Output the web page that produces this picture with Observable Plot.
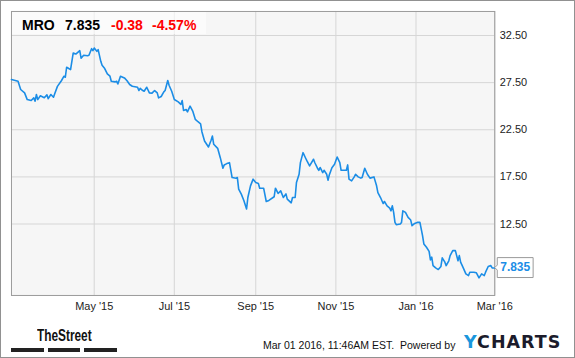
<!DOCTYPE html>
<html>
<head>
<meta charset="utf-8">
<script src="https://cdn.jsdelivr.net/npm/d3@7"></script>
<script src="https://cdn.jsdelivr.net/npm/@observablehq/plot@0.6"></script>
<style>
  html, body { margin: 0; padding: 0; background: #fff; }
  #wrap { position: relative; width: 575px; height: 358px; box-sizing: border-box; border: 1px solid #919191; overflow: hidden; font-family: "Liberation Sans", Arial, sans-serif; }
  #chart { position: absolute; left: 0; top: 0; }
  #hdrbox { position: absolute; left: 11px; top: 11px; width: 194px; height: 22px; background: rgba(255,255,255,0.6); }
  .h { position: absolute; top: 17px; font: bold 14px/14px "Liberation Sans", Arial, sans-serif; white-space: pre; }
  .red { color: #ff0000; }
  #stamp { position: absolute; left: 262px; top: 339px; font: 10.5px/10.5px "Liberation Sans", Arial, sans-serif; color: #111; white-space: pre; }
  #ych { position: absolute; left: 463px; top: 333px; font: bold 17.5px/17.5px "DejaVu Sans", sans-serif; letter-spacing: 1px; color: #1b1b2b; white-space: pre; }
  #ych span { color: #1a96dc; }
  #ts { position: absolute; left: 36px; top: 327px; font: bold 16px/16px "Liberation Sans", Arial, sans-serif; color: #111; white-space: pre; transform: scaleX(0.74); transform-origin: 0 0; }
  .bar { position: absolute; top: 347px; height: 4px; background: #222; }
  g[aria-label="tip"] text, g[aria-label="tip"] tspan { fill: #1b8de6 !important; font-weight: bold !important; }
</style>
</head>
<body>
<div id="wrap">
  <div id="chart"></div>
  <div id="hdrbox"></div>
  <div class="h" id="hSym" style="left:21px"></div>
  <div class="h" id="hPrice" style="left:64px"></div>
  <div class="h red" id="hChg" style="left:110px"></div>
  <div class="h red" id="hPct" style="left:151px"></div>
  <div id="ts">TheStreet</div>
  <div class="bar" style="left:10px;width:33px"></div>
  <div class="bar" style="left:47px;width:32px"></div>
  <div class="bar" style="left:83px;width:33px"></div>
  <div id="stamp">Mar 01 2016, 11:46AM EST.  Powered by</div>
  <div id="ych"><span>Y</span>CHARTS</div>
</div>
<script>
const symbol = "MRO";
const lastPrice = 7.835;
const change = -0.38;
const changePct = -4.57;

const dates = [
  "2015-02-27","2015-03-04","2015-03-06","2015-03-09","2015-03-11","2015-03-14","2015-03-16","2015-03-17","2015-03-18","2015-03-19","2015-03-21","2015-03-24","2015-03-26","2015-03-27","2015-03-29","2015-03-31","2015-04-01","2015-04-03","2015-04-06","2015-04-08","2015-04-09","2015-04-10","2015-04-11","2015-04-13","2015-04-15","2015-04-17","2015-04-20","2015-04-21","2015-04-23","2015-04-26","2015-04-27","2015-04-29","2015-04-30","2015-05-01","2015-05-03","2015-05-04","2015-05-06","2015-05-07","2015-05-09","2015-05-11","2015-05-13","2015-05-14","2015-05-17","2015-05-18","2015-05-19","2015-05-21","2015-05-24","2015-05-26","2015-05-28",
  "2015-05-30","2015-06-03","2015-06-04","2015-06-05","2015-06-07","2015-06-08","2015-06-10","2015-06-12","2015-06-14","2015-06-16","2015-06-18","2015-06-19","2015-06-21","2015-06-23","2015-06-24","2015-06-26","2015-06-27","2015-06-29","2015-07-01","2015-07-04","2015-07-06","2015-07-07","2015-07-08","2015-07-10","2015-07-11","2015-07-13","2015-07-15","2015-07-17","2015-07-19","2015-07-21","2015-07-22","2015-07-24","2015-07-27","2015-07-29","2015-07-30","2015-07-31","2015-08-03","2015-08-05","2015-08-07","2015-08-08","2015-08-10","2015-08-12","2015-08-14","2015-08-17","2015-08-18","2015-08-19","2015-08-21","2015-08-23","2015-08-25","2015-08-26","2015-08-28","2015-08-30",
  "2015-09-01","2015-09-03","2015-09-04","2015-09-07","2015-09-09","2015-09-11","2015-09-15","2015-09-16","2015-09-18","2015-09-20","2015-09-22","2015-09-24","2015-09-25","2015-09-28","2015-09-29","2015-10-01","2015-10-02","2015-10-04","2015-10-05","2015-10-07","2015-10-09","2015-10-10","2015-10-12","2015-10-15","2015-10-16","2015-10-18","2015-10-19","2015-10-20","2015-10-22","2015-10-23","2015-10-25","2015-10-26","2015-10-27","2015-10-29","2015-10-31","2015-11-02","2015-11-04","2015-11-05","2015-11-09","2015-11-10","2015-11-11","2015-11-13","2015-11-15","2015-11-16","2015-11-18","2015-11-20","2015-11-21","2015-11-23","2015-11-25","2015-11-27","2015-11-30",
  "2015-12-02","2015-12-03","2015-12-05","2015-12-07","2015-12-08","2015-12-10","2015-12-12","2015-12-13","2015-12-14","2015-12-15","2015-12-16","2015-12-17","2015-12-20","2015-12-21","2015-12-22","2015-12-24","2015-12-26","2015-12-28","2015-12-29","2015-12-31","2016-01-02","2016-01-04","2016-01-06","2016-01-07","2016-01-09","2016-01-11","2016-01-12","2016-01-13","2016-01-14","2016-01-16","2016-01-18","2016-01-20","2016-01-21","2016-01-23","2016-01-24","2016-01-26","2016-01-27","2016-01-29","2016-01-31","2016-02-02","2016-02-03","2016-02-04","2016-02-06","2016-02-08","2016-02-10","2016-02-11","2016-02-14","2016-02-16","2016-02-18","2016-02-20","2016-02-22","2016-02-23","2016-02-25","2016-02-27","2016-02-28","2016-03-01"
];
const prices = [
  27.83,27.65,26.77,26.41,25.7,25.6,25.88,25.53,26.24,25.7,26.1,25.9,26.2,25.8,26.24,25.95,26.35,27.1,27.7,28.18,28.07,29.13,29.05,28.88,30.64,30.53,30.89,30.1,30.4,30.36,30.4,31.1,30.89,31.17,30.82,31.0,29.76,29.34,28.99,28.42,28.18,27.65,27.58,27.65,27.36,28.18,28.0,27.7,27.3,
  27.12,27.01,26.66,26.9,26.66,26.59,27.01,26.41,26.38,26.66,26.41,25.88,26.03,26.52,26.66,27.72,27.22,26.59,25.71,25.46,25.18,25.6,24.55,24.65,24.4,25.0,24.48,23.6,23.35,23.13,22.29,21.31,20.67,21.38,21.83,20.96,20.53,19.54,18.42,18.77,18.91,19.01,17.43,17.36,17.43,16.2,15.67,14.96,14.09,15.31,16.55,17.26,
  16.9,16.8,16.3,16.3,14.89,15.0,15.39,16.3,15.74,16.02,15.31,15.7,15.14,14.75,15.31,15.31,16.9,17.78,19.01,20.07,19.48,19.19,18.66,19.37,19.0,18.42,18.2,18.5,17.96,18.2,17.78,17.15,17.7,18.48,18.84,19.61,19.01,18.2,18.2,18.77,17.26,17.08,17.5,17.78,17.5,17.37,17.43,18.42,17.78,17.37,17.5,
  16.55,15.84,15.31,14.68,14.89,14.43,14.19,13.9,14.43,13.73,12.67,12.43,12.5,12.67,13.9,13.73,13.2,12.92,12.32,12.56,12.67,12.67,11.26,10.39,10.03,9.6,8.69,8.98,8.09,7.85,7.67,8.0,8.91,8.45,8.09,8.6,9.15,9.68,9.68,8.6,9.15,8.45,7.85,7.21,7.03,7.39,7.39,7.32,6.79,7.21,7.03,7.39,7.99,8.09,7.85,7.835
];
const xTickDates = ["2015-05-01","2015-07-01","2015-09-01","2015-11-01","2016-01-01","2016-03-01"];
const yTickValues = [12.5, 17.5, 22.5, 27.5, 32.5];
const yDomain = [4.92, 35.05];

const data = dates.map((d, i) => ({date: new Date(d), value: prices[i]}));
const xTicks = xTickDates.map(d => new Date(d));
const last = data[data.length - 1];
const fmtX = d3.utcFormat("%b '%y");

document.getElementById("hSym").textContent = symbol;
document.getElementById("hPrice").textContent = lastPrice.toFixed(3);
document.getElementById("hChg").textContent = change.toFixed(2);
document.getElementById("hPct").textContent = changePct.toFixed(2) + "%";

const chart = Plot.plot({
  width: 575,
  height: 358,
  marginLeft: 10,
  marginRight: 80,
  marginTop: 10,
  marginBottom: 63,
  style: {background: "transparent", fontFamily: "'Liberation Sans', Arial, sans-serif", fontSize: "11px", color: "#222"},
  x: {type: "utc", domain: [data[0].date, last.date], label: null},
  y: {domain: yDomain, label: null},
  marks: [
    Plot.frame({fill: "#f6f6f6", stroke: null}),
    Plot.gridX(xTicks, {stroke: "#d6d6d6", strokeOpacity: 1}),
    Plot.gridY(yTickValues, {stroke: "#d6d6d6", strokeOpacity: 1}),
    Plot.frame({stroke: "#9a9a9a"}),
    Plot.axisX(xTicks, {tickSize: 0, tickPadding: 7, tickFormat: fmtX, label: null}),
    Plot.axisY(yTickValues, {anchor: "right", tickSize: 0, tickPadding: 5, tickFormat: d => d.toFixed(2), label: null}),
    Plot.lineY(data, {x: "date", y: "value", stroke: "#1b8de6", strokeWidth: 1.6}),
    Plot.tip([last], {x: "date", y: "value", title: d => d.value.toFixed(3), anchor: "left",
      fill: "white", stroke: "#9a9a9a", pathFilter: "none", pointerSize: 5, textPadding: 3,
      fontSize: 12, fontWeight: "bold"})
  ]
});
document.getElementById("chart").appendChild(chart);
</script>
</body>
</html>
